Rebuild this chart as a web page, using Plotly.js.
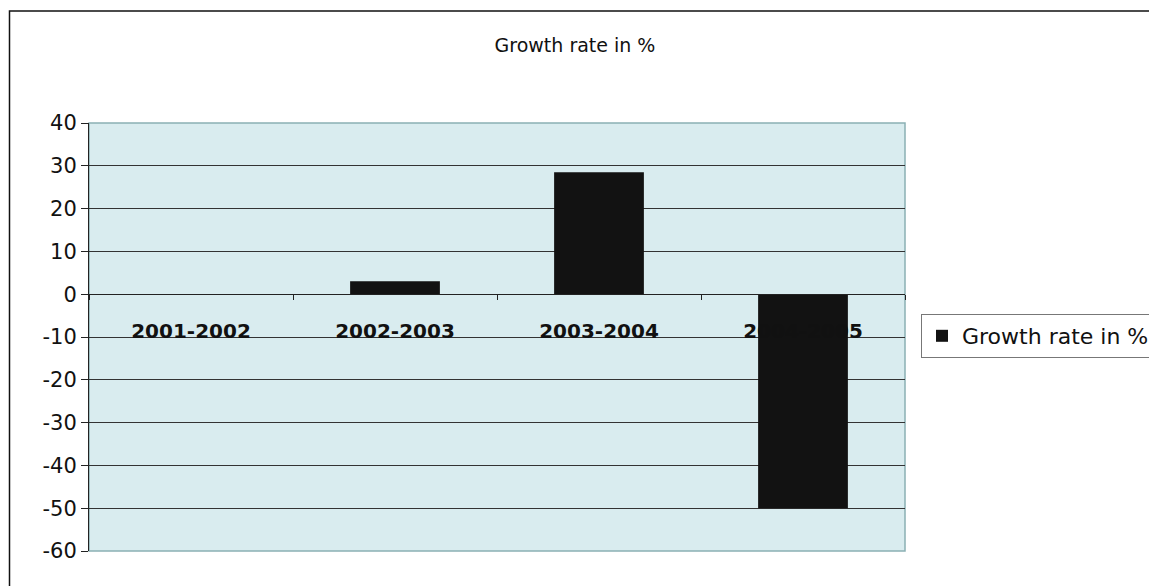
<!DOCTYPE html>
<html>
<head>
<meta charset="utf-8">
<script src="https://cdn.plot.ly/plotly-3.0.1.min.js"></script>
<style>html,body{margin:0;padding:0;background:#fff;}#chart{width:1149px;height:586px;}</style>
</head>
<body>
<div id="chart"></div>
<script>
var categories = ["2001-2002", "2002-2003", "2003-2004", "2004-2005"];
var growthRate = [0, 3, 28.5, -50];
var seriesName = "Growth rate in %";
var chartTitle = "Growth rate in %";
var yTickValues = [40, 30, 20, 10, 0, -10, -20, -30, -40, -50, -60];
var yTickLabels = ["40", "30", "20", "10", "0", "-10", "-20", "-30", "-40", "-50", "-60"];

var W = 1149, H = 586;
var mL = 89, mR = 244, mT = 123, mB = 35;
var pw = W - mL - mR, ph = H - mT - mB;
function px2x(p){ return (p - mL) / pw; }
function py2y(p){ return (H - mB - p) / ph; }

var font = "DejaVu Sans, Liberation Sans, Arial, sans-serif";

var trace = {
  type: "bar",
  x: categories,
  y: growthRate,
  name: seriesName,
  marker: {color: "#121212", line: {width: 0}},
  showlegend: true
};

var layout = {
  width: W, height: H,
  margin: {l: mL, r: mR, t: mT, b: mB, pad: 0, autoexpand: false},
  paper_bgcolor: "#ffffff",
  plot_bgcolor: "#d9ecef",
  font: {family: font, color: "#111", size: 20},
  title: {text: chartTitle, x: 575 / W, xref: "container", xanchor: "center", y: 1 - 45/H, yanchor: "middle",
          font: {family: font, size: 19, color: "#111"}},
  bargap: 0.56,
  xaxis: {
    type: "category",
    anchor: "free",
    position: 0.6,
    showline: true, linecolor: "#222", linewidth: 1,
    showgrid: false, zeroline: false,
    ticks: "outside", ticklen: 5, tickcolor: "#222", tickson: "boundaries",
    ticklabelstandoff: 19,
    tickfont: {family: font, size: 20, color: "#111", weight: "bold"},
    fixedrange: true
  },
  yaxis: {
    range: [-60, 40],
    tickvals: yTickValues,
    ticktext: yTickLabels,
    showline: true, linecolor: "#222", linewidth: 1,
    showgrid: true, gridcolor: "#333", gridwidth: 1,
    zeroline: false,
    ticks: "outside", ticklen: 7, tickcolor: "#222",
    tickfont: {family: font, size: 21, color: "#111"},
    fixedrange: true
  },
  legend: {
    xref: "container", yref: "container",
    x: 921 / W, xanchor: "left",
    y: 1 - 336 / H, yanchor: "middle",
    bgcolor: "#ffffff", bordercolor: "#777", borderwidth: 1,
    font: {family: font, size: 22, color: "#111"},
    itemwidth: 30
  },
  shapes: [
    {type: "rect", xref: "paper", yref: "paper", x0: 0, x1: 1, y0: 0, y1: 1,
     line: {color: "#8ab0b4", width: 1.5}, layer: "below"},
    {type: "rect", xref: "paper", yref: "paper",
     x0: px2x(9.5), x1: px2x(1152), y0: py2y(590), y1: py2y(11),
     line: {color: "#111", width: 1.5}, fillcolor: "rgba(0,0,0,0)"}
  ]
};

Plotly.newPlot("chart", [trace], layout, {displayModeBar: false, staticPlot: true});
</script>
</body>
</html>
